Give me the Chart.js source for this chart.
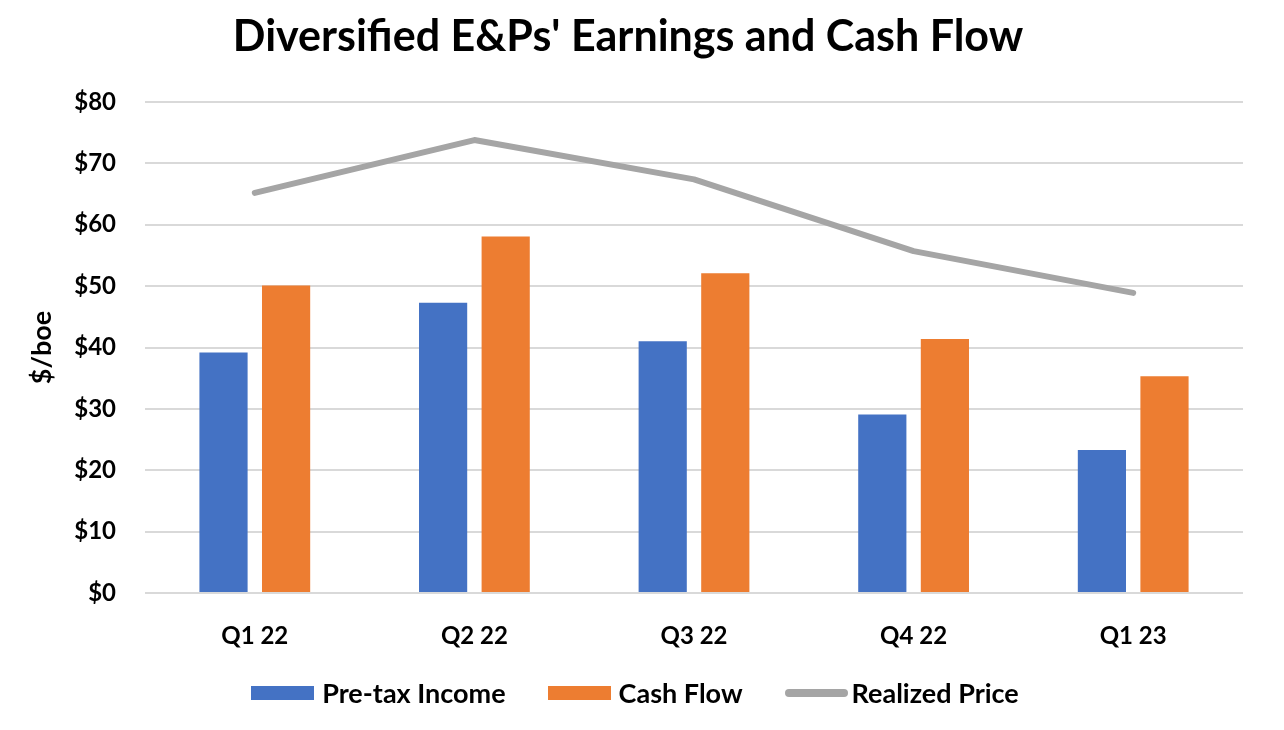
<!DOCTYPE html>
<html lang="en">
  <head>
    <meta charset="UTF-8" />
    <title>Diversified E&amp;Ps' Earnings and Cash Flow</title>
    <style>
      html,
      body {
        margin: 0;
        padding: 0;
        background: #fff;
        overflow: hidden;
        font-family: Lato, "Open Sans", sans-serif;
      }
      .wrap {
        position: relative;
        width: 1284px;
        height: 730px;
      }
      ul,
      li {
        margin: 0;
        padding: 0;
        list-style: none;
      }
      .legend {
        position: absolute;
        left: 0;
        top: 677px;
        width: 1270px;
        display: flex;
        justify-content: center;
        gap: 42px;
        font-weight: bold;
        font-size: 27px;
        line-height: 32px;
        color: #000;
      }
      .legend li {
        display: flex;
        align-items: center;
      }
      .legend .swatch {
        display: inline-block;
        width: 63px;
        height: 14px;
        margin-right: 8px;
      }
      .legend .swatch.line {
        height: 8px;
        border-radius: 4px;
        margin-right: 4px;
      }
    </style>
  </head>
  <body>
    <div class="wrap">
      <canvas class="chart"></canvas>
      <ul class="legend"></ul>
    </div>
    <script src="https://cdn.jsdelivr.net/npm/chart.js@4.4.1/dist/chart.umd.min.js"></script>
    <script>
      const quarters = ["Q1 22", "Q2 22", "Q3 22", "Q4 22", "Q1 23"];
      const pretaxIncome = [39.2, 47.3, 41.0, 29.1, 23.3];
      const cashFlow = [50.1, 58.1, 52.1, 41.4, 35.3];
      const realizedPrice = [65.2, 73.8, 67.4, 55.7, 48.9];

      const FONT = "Lato, 'Open Sans', sans-serif";
      const titleText = "Diversified E&Ps' Earnings and Cash Flow";

      // Title drawn by hand so it can sit left of the canvas centre, like the original.
      const titlePlugin = {
        id: "offsetTitle",
        afterDraw(chart) {
          const ctx = chart.ctx;
          ctx.save();
          ctx.font = `bold 43px ${FONT}`;
          ctx.fillStyle = "#000";
          ctx.textAlign = "center";
          ctx.textBaseline = "middle";
          ctx.fillText(titleText, 628, 37);
          ctx.restore();
        },
      };

      const datasets = [
        {
          label: "Pre-tax Income",
          data: pretaxIncome,
          backgroundColor: "#4472C4",
          borderWidth: 0,
          order: 1,
        },
        {
          label: "Cash Flow",
          data: cashFlow,
          backgroundColor: "#ED7D31",
          borderWidth: 0,
          order: 1,
        },
        {
          type: "line",
          label: "Realized Price",
          data: realizedPrice,
          borderColor: "#A5A5A5",
          backgroundColor: "#A5A5A5",
          borderWidth: 6,
          borderCapStyle: "round",
          borderJoinStyle: "round",
          pointRadius: 0,
          tension: 0,
          order: 0,
        },
      ];

      // Legend in HTML, spaced like the original.
      const legend = document.querySelector(".legend");
      for (const ds of datasets) {
        const item = document.createElement("li");
        const swatch = document.createElement("span");
        swatch.className = ds.type === "line" ? "swatch line" : "swatch";
        swatch.style.background = ds.backgroundColor;
        item.appendChild(swatch);
        item.appendChild(document.createTextNode(ds.label));
        legend.appendChild(item);
      }

      const ctx = document.querySelector(".chart").getContext("2d");
      new Chart(ctx, {
        type: "bar",
        data: {
          labels: quarters,
          datasets,
        },
        options: {
          responsive: true,
          maintainAspectRatio: false,
          animation: false,
          categoryPercentage: 0.57,
          barPercentage: 0.77,
          layout: {
            padding: { top: 102, right: 41, bottom: 72, left: 0 },
          },
          scales: {
            x: {
              grid: { display: false },
              border: { display: false },
              ticks: {
                color: "#000",
                padding: 21,
                font: { family: FONT, size: 24, weight: "bold" },
              },
              afterFit(scale) {
                scale.height = 65;
              },
            },
            y: {
              min: 0,
              max: 80,
              grid: {
                color: "#D9D9D9",
                lineWidth: 2,
                drawTicks: false,
              },
              border: { display: false },
              ticks: {
                stepSize: 10,
                color: "#000",
                padding: 29,
                font: { family: FONT, size: 24, weight: "bold" },
                callback: (v) => "$" + v,
              },
              title: {
                display: true,
                text: "$/boe",
                color: "#000",
                padding: { top: 26, bottom: 0 },
                font: { family: FONT, size: 27, weight: "bold" },
              },
              afterFit(scale) {
                scale.width = 145;
              },
            },
          },
          plugins: {
            title: { display: false },
            tooltip: { enabled: false },
            legend: { display: false },
          },
        },
        plugins: [titlePlugin],
      });
    </script>
  </body>
</html>
